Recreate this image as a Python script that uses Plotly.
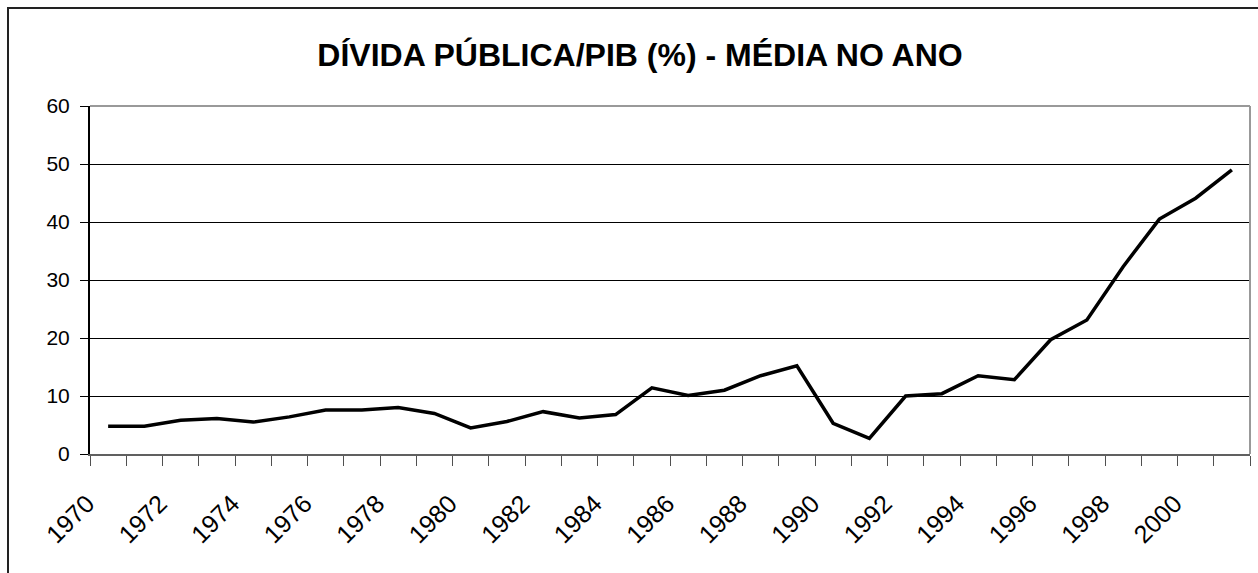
import plotly.graph_objects as go

years = list(range(1970, 2002))
divida_pib = [4.8, 4.8, 5.8, 6.1, 5.5, 6.4, 7.6, 7.6, 8.0, 7.0,
              4.5, 5.6, 7.3, 6.2, 6.8, 11.4, 10.1, 11.0, 13.5, 15.2,
              5.3, 2.7, 10.0, 10.4, 13.5, 12.8, 19.7, 23.1, 32.3, 40.5,
              44.1, 49.0]
x_tick_labels = [str(y) for y in range(1970, 2001, 2)]
y_ticks = [0, 10, 20, 30, 40, 50, 60]
title_text = "DÍVIDA PÚBLICA/PIB (%) - MÉDIA NO ANO"

L, R, T, B = 90, 8, 106, 119
W, H = 1258, 573
pw, ph = W - L - R, H - T - B

fig = go.Figure()
fig.add_trace(go.Scatter(
    x=years, y=divida_pib, mode="lines",
    line=dict(color="black", width=3.5),
    showlegend=False, hoverinfo="x+y",
))

fig.update_layout(
    width=W, height=H,
    margin=dict(l=L, r=R, t=T, b=B),
    paper_bgcolor="white", plot_bgcolor="white",
    font=dict(family="Arial, Liberation Sans, sans-serif", color="black", size=21),
    title=dict(text="<b>" + title_text + "</b>", x=640 / W, xref="container",
               xanchor="center", y=1 - 55 / H, yanchor="middle",
               font=dict(size=32, family="Arial, Liberation Sans, sans-serif", color="black")),
    xaxis=dict(
        range=[1969.5, 2001.5], tickmode="array",
        tickvals=[int(t) for t in x_tick_labels], ticktext=x_tick_labels,
        tickangle=-45, ticks="", showgrid=False, zeroline=False,
        showline=True, linecolor="#606060", linewidth=2,
        tickfont=dict(size=25), ticklabelstandoff=23, ticklabelshift=-21,
        minor=dict(tickmode="linear", tick0=1969.5, dtick=1, ticks="outside",
                   ticklen=10, tickcolor="#505050", tickwidth=1, showgrid=False),
        fixedrange=True,
    ),
    yaxis=dict(
        range=[0, 60], tickmode="array", tickvals=y_ticks,
        ticks="outside", ticklen=8, tickcolor="black", tickwidth=1,
        showgrid=True, gridcolor="black", gridwidth=1, zeroline=False,
        showline=True, linecolor="black", linewidth=2,
        tickfont=dict(size=21), ticklabelstandoff=6, fixedrange=True,
    ),
    shapes=[
        dict(type="line", xref="paper", yref="paper", x0=0, x1=1, y0=1, y1=1,
             line=dict(color="#999999", width=2), layer="above"),
        dict(type="line", xref="paper", yref="paper", x0=1, x1=1, y0=0, y1=1,
             line=dict(color="#999999", width=2), layer="above"),
        dict(type="rect", xref="paper", yref="paper",
             x0=(8 - L) / pw, x1=(W + 20 - L) / pw,
             y0=-(B + 20) / ph, y1=(H - B - 8) / ph,
             line=dict(color="#222222", width=2), layer="below"),
    ],
)

fig.write_html("out.html")
